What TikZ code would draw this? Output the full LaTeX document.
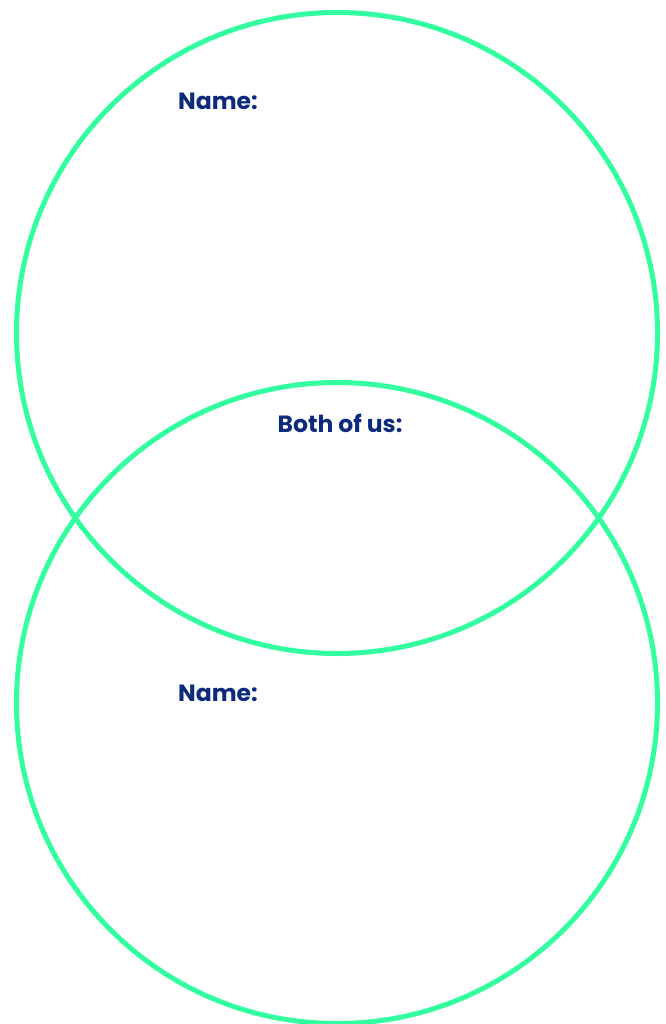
\documentclass[tikz,border=0pt]{standalone}
\usepackage{fontspec}
\setmainfont{Poppins}
\usepackage{xcolor}
\usetikzlibrary{positioning}
\definecolor{ring}{HTML}{33FFA0}
\definecolor{navy}{HTML}{0E2A7C}

\begin{document}
\begin{tikzpicture}[x=1pt,y=-1pt,
  ring/.style={draw=ring,line width=5pt,circle,minimum size=641pt,inner sep=0pt},
  lbl/.style={text=navy,font=\fontsize{23.5}{27}\selectfont\bfseries,inner sep=0pt}
]
  \useasboundingbox (0,0) rectangle (665,1024);
  % the two overlapping circles
  \node[ring] (top) at (337,333) {};
  \node[ring] (bot) at (337,703) {};
  % labels
  \node[lbl,anchor=west] (nameA) at (178,101) {Name:};
  \node[lbl] (both) at (340,423) {Both of us:};
  \node[lbl,anchor=west] (nameB) at (178,693) {Name:};
\end{tikzpicture}
\end{document}
